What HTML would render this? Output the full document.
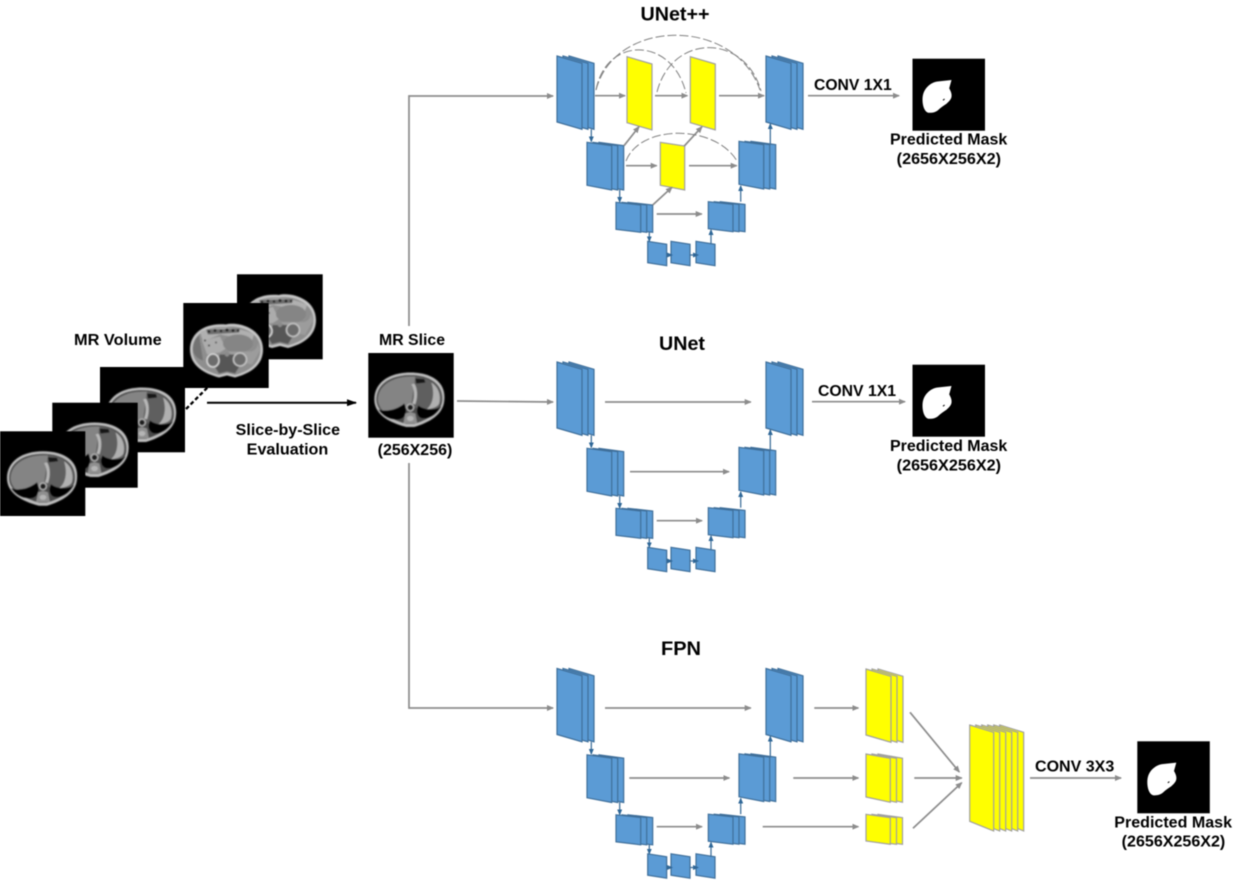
<!DOCTYPE html>
<html><head><meta charset="utf-8"><title>Segmentation diagram</title>
<style>
html,body{margin:0;padding:0;background:#fff;width:1233px;height:880px;overflow:hidden}
svg{display:block;filter:blur(.45px)}
text{font-family:"Liberation Sans",sans-serif;font-weight:bold;fill:#000}
.g{stroke:#8c8c8c;stroke-width:1.7;fill:none;marker-end:url(#ag)}
.b{stroke:#41719c;stroke-width:1.3;fill:none;marker-end:url(#ab)}
.d{stroke:#808080;stroke-width:1;fill:none;stroke-dasharray:9 3}
.bl{fill:#5b9bd5;stroke:#3f6f9a;stroke-width:1.2}
.ye{fill:#ffff00;stroke:#a0a0a0;stroke-width:1.2}
</style></head><body>
<svg width="1233" height="880" viewBox="0 0 1233 880" xmlns="http://www.w3.org/2000/svg">
<defs>
<filter id="soft" x="-5%" y="-5%" width="110%" height="110%"><feGaussianBlur stdDeviation=".55"/></filter>
<marker id="ag" markerWidth="7" markerHeight="6" refX="6" refY="3" orient="auto" markerUnits="userSpaceOnUse"><path d="M0 0L7 3L0 6z" fill="#8c8c8c"/></marker>
<marker id="ab" markerWidth="6" markerHeight="5" refX="5" refY="2.5" orient="auto" markerUnits="userSpaceOnUse"><path d="M0 0L6 2.5L0 5z" fill="#2f6797"/></marker>
<marker id="ak" markerWidth="10" markerHeight="7" refX="9" refY="3.5" orient="auto" markerUnits="userSpaceOnUse"><path d="M0 0L10 3.5L0 7z" fill="#000"/></marker>
<polygon id="pBig" points="0,0 25,7.3 25,73.3 0,66"/>
<polygon id="pMid" points="0,0 24.7,3.4 24.7,47.7 0,43"/>
<polygon id="p3" points="0,0 24.7,2.7 24.7,30 0,27"/>
<polygon id="pT" points="0,0 19,3 19,24.4 0,21.4"/>
<polygon id="pY" points="0,0 24,7.3 24,106 0,96.3"/>
<g id="sBig"><use href="#pBig" x="12"/><use href="#pBig" x="6"/><use href="#pBig"/></g>
<g id="sMid"><use href="#pMid" x="12"/><use href="#pMid" x="6"/><use href="#pMid"/></g>
<g id="s3"><use href="#p3" x="12"/><use href="#p3" x="6"/><use href="#p3"/></g>
<g id="unetBlocks" class="bl">
<use href="#sBig" x="557" y="56"/><use href="#sMid" x="587" y="142.3"/><use href="#s3" x="616" y="202.3"/>
<use href="#pT" x="647.7" y="241.3"/><use href="#pT" x="671" y="241.3"/><use href="#pT" x="696" y="241.3"/>
<use href="#s3" x="708.3" y="201.7"/><use href="#sMid" x="739" y="141.3"/><use href="#sBig" x="766" y="56"/>
<path class="b" d="M591.3 129.3V141.5"/><path class="b" d="M619.7 190V202"/><path class="b" d="M649.3 232.3V241.3"/>
<path class="b" d="M666.7 255H672"/><path class="b" d="M690 255H698"/><path class="b" d="M711 244.3V230"/>
<path class="b" d="M740.7 201.7V186"/><path class="b" d="M770.3 145V124"/>
</g>
<g id="chest" filter="url(#soft)">
<path d="M0 27C0 10 15 0 36 0C58 0 72 10 70 28C69 42 55 50 40 54.5L32 54.5C15 50 0 42 0 27z" fill="#bdbdbd"/>
<path d="M2 27C2 12 16 2.5 36 2.5C56 2.5 69 12 68 28C67 40 54 47 40 51.5L32 51.5C17 47 2 40 2 27z" fill="#4a4a4a"/>
<path d="M3.5 27C3.5 14 17 4 36 4L41 4V30L30 37L14 43C8 39 3.5 33 3.5 27z" fill="#848484"/>
<path d="M41 4C56 5 67 13 67 27L64 36L46 38L37 33z" fill="#5e5e5e"/>
<path d="M41 6L50 6.5L51 10L42 11z" fill="#141414"/>
<path d="M37 12C40 16 41 24 38 31L41 32C44 24 43 15 40 11z" fill="#b8b8b8"/>
<path d="M57 10C64 14 67 23 65 31C63 35 58 36 52 37C58 33 61 22 57 10z" fill="#b0b0b0"/>
<path d="M4 37C12 40 23 37 30 31C33 38 32 46 24 47C15 48 8 43 4 37z" fill="#050505"/>
<path d="M67 34C61 38 50 38 44 33C41 39 43 46 50 46C57 46 63 41 67 34z" fill="#050505"/>
<circle cx="36" cy="35" r="3.4" fill="#1c1c1c" stroke="#b0b0b0" stroke-width="1.4"/>
<path d="M31 41L36 39.5L41 41L43 51H29z" fill="#8f8f8f"/><ellipse cx="36" cy="46" rx="3.4" ry="2.6" fill="#b5b5b5"/>
</g>
<g id="abd" filter="url(#soft)">
<path d="M0 28C0 12 14 1 36 3C47 0 73 6 73 28C73 44 60 52 45 56L37 54L29 56C14 52 0 44 0 28z" fill="#c6c6c6"/>
<path d="M2.5 28C2.5 14 15 4 36 5.5C47 3 70.5 9 70.5 28C70.5 42 59 50 45 53.5L37 51.5L29 53.5C15 50 2.5 42 2.5 28z" fill="#8e8e8e"/>
<path d="M3 28C3 20 6 16 9 14L11 26L13 39C7 37 3 33 3 28z" fill="#737373"/>
<path d="M10 10C25 5 50 5 64 13L62 19L30 13L13 20z" fill="#b0b0b0"/>
<path d="M16 8L50 7L49 11L18 13z" fill="#6c6c6c"/>
<g fill="#1e1e1e"><circle cx="19" cy="10" r="1.3"/><circle cx="25" cy="9" r="1.4"/><circle cx="31" cy="9.5" r="1.2"/><circle cx="37" cy="8.5" r="1.5"/><circle cx="43" cy="9" r="1.4"/><circle cx="48" cy="9" r="1.1"/></g>
<path d="M12 19L30 15L36 27L30 31L17 33z" fill="#acacac"/>
<g fill="#3a3a3a"><circle cx="15" cy="19" r="1"/><circle cx="19" cy="24" r="1"/><circle cx="26" cy="21" r=".9"/></g>
<ellipse cx="48" cy="22" rx="15" ry="9" fill="#858585"/>
<path d="M38 30L60 30C66 30 68 24 68 21L70 29L62 43L48 40z" fill="#9c9c9c"/>
<path d="M24 44L30 33H44L50 44L45 52L37 50L29 52z" fill="#565656"/>
<ellipse cx="23" cy="39" rx="6" ry="6.5" fill="#6c6c6c" stroke="#d6d6d6" stroke-width="1.6"/>
<ellipse cx="50" cy="38" rx="6.5" ry="6.5" fill="#6c6c6c" stroke="#c4c4c4" stroke-width="1.6"/>
<circle cx="37" cy="33" r="2.2" fill="#8b8b8b"/>
</g>
<g id="mask">
<rect width="72.5" height="72" fill="#000"/>
<path d="M39 21.3L36.7 29.7C38 32 39.5 35 39 38C38.5 41 36 43 34 45C31 47 28 49 26 51C24 53 20 54.5 15.7 54C12 53 10 47 10 41C10 35 12 31 15 28C18 25 21 23.5 25 22.8z" fill="#fff"/>
<path d="M30.5 41.5l1.6-1.2" stroke="#000" stroke-width="1"/>
</g>
</defs>

<!-- MR volume stack -->
<rect x="237" y="274.3" width="85.7" height="85" fill="#000"/>
<use href="#abd" x="243" y="292"/>
<rect x="183.3" y="303" width="85.4" height="85" fill="#000"/>
<use href="#abd" x="190" y="321.5"/>
<rect x="100" y="367" width="85" height="85.3" fill="#000"/>
<use href="#chest" x="106" y="387.5"/>
<rect x="52.3" y="402.7" width="85.4" height="85" fill="#000"/>
<use href="#chest" x="58.5" y="422.5"/>
<rect x="0" y="431.3" width="85.3" height="84.7" fill="#000"/>
<use href="#chest" x="7" y="451.3"/>
<path d="M186 409L208 387" stroke="#000" stroke-width="2.3" stroke-dasharray="4 2.5" fill="none"/>
<path d="M207 402.7H356" stroke="#000" stroke-width="2" fill="none" marker-end="url(#ak)"/>
<text x="74" y="345" font-size="16" textLength="87.7" lengthAdjust="spacingAndGlyphs">MR Volume</text>
<text x="235.7" y="435" font-size="15.5" textLength="104.3" lengthAdjust="spacingAndGlyphs">Slice-by-Slice</text>
<text x="246.7" y="454.7" font-size="15.5" textLength="81.6" lengthAdjust="spacingAndGlyphs">Evaluation</text>

<!-- MR slice -->
<rect x="368.3" y="353" width="85.4" height="84.7" fill="#000"/>
<use href="#chest" x="374.3" y="372.5"/>
<text x="379" y="345" font-size="15.5" textLength="66" lengthAdjust="spacingAndGlyphs">MR Slice</text>
<text x="377.7" y="455" font-size="15.5" textLength="74.6" lengthAdjust="spacingAndGlyphs">(256X256)</text>

<!-- trunk -->
<path class="g" d="M409 326V96H553"/>
<path class="g" d="M409 463V708H553"/>
<path class="g" d="M457 401L553 402"/>

<!-- UNet++ -->
<use href="#unetBlocks"/>
<g class="ye"><use href="#pBig" x="627" y="56.7"/><use href="#pBig" x="690.3" y="56.7"/>
<polygon points="660.3,142.3 684.7,146 684.7,190 660.3,185.3"/></g>
<path class="g" d="M595 95.7H625"/><path class="g" d="M655 95.7H687.3"/><path class="g" d="M719 95.7H764"/>
<path class="g" d="M626 165.7H656.7"/><path class="g" d="M689 165.7H736.7"/><path class="g" d="M656.7 214H701.7"/>
<path class="g" d="M624 145.7L639 126.7"/><path class="g" d="M684.3 146L702 126.7"/><path class="g" d="M652.7 205L672 187.3"/>
<path class="d" d="M596 90C606 36 672 36 686 93"/>
<path class="d" d="M596 90C615 17 735 17 760 90"/>
<path class="d" d="M657 92C672 33 745 33 761 91"/>
<path class="d" d="M626 161C640 124 715 124 737 161"/>
<text x="640.5" y="20.7" font-size="19.5" textLength="69" lengthAdjust="spacingAndGlyphs">UNet++</text>
<path class="g" d="M808 95.7H899"/>
<text x="814" y="90" font-size="15.5" textLength="77.7" lengthAdjust="spacingAndGlyphs">CONV 1X1</text>
<use href="#mask" x="912.5" y="58.7"/>
<text x="890" y="144.7" font-size="15.5" textLength="117.3" lengthAdjust="spacingAndGlyphs">Predicted Mask</text>
<text x="896.7" y="164" font-size="15.5" textLength="104.3" lengthAdjust="spacingAndGlyphs">(2656X256X2)</text>

<!-- UNet -->
<use href="#unetBlocks" y="306"/>
<path class="g" d="M605 402H750.7"/><path class="g" d="M630 471.7H729"/><path class="g" d="M656.7 520.7H702"/>
<text x="659" y="350" font-size="19.5" textLength="46" lengthAdjust="spacingAndGlyphs">UNet</text>
<path class="g" d="M812 401.7H905"/>
<text x="818" y="396" font-size="15.5" textLength="78" lengthAdjust="spacingAndGlyphs">CONV 1X1</text>
<use href="#mask" x="912.5" y="364.7"/>
<text x="890" y="451" font-size="15.5" textLength="117.3" lengthAdjust="spacingAndGlyphs">Predicted Mask</text>
<text x="896.7" y="470.5" font-size="15.5" textLength="104.3" lengthAdjust="spacingAndGlyphs">(2656X256X2)</text>

<!-- FPN -->
<use href="#unetBlocks" y="612.5"/>
<path class="g" d="M605 708H750.7"/><path class="g" d="M629.3 778H729.3"/><path class="g" d="M656.7 826.7H702"/>
<path class="g" d="M814.3 708H858.3"/><path class="g" d="M793.3 778H858.3"/><path class="g" d="M762.7 826.7H858.3"/>
<text x="661" y="655" font-size="19.5" textLength="40" lengthAdjust="spacingAndGlyphs">FPN</text>
<g class="ye">
<use href="#sBig" x="866" y="669"/>
<g transform="translate(866 754)"><polygon points="12,0 36.5,4.3 36.5,48.3 12,43"/><polygon points="6,0 30.5,4.3 30.5,48.3 6,43"/><polygon points="0,0 24.3,4.3 24.3,48.3 0,43"/></g>
<g transform="translate(866 814.3)"><polygon points="12,0 36.5,3.4 36.5,30 12,26.7"/><polygon points="6,0 30.5,3.4 30.5,30 6,26.7"/><polygon points="0,0 24.3,3.4 24.3,30 0,26.7"/></g>
<g transform="translate(969.7 725)"><use href="#pY" x="30"/><use href="#pY" x="24"/><use href="#pY" x="18"/><use href="#pY" x="12"/><use href="#pY" x="6"/><use href="#pY"/></g>
</g>
<path class="g" d="M910 712.3L959.3 772"/><path class="g" d="M914.3 778H961.7"/><path class="g" d="M913 828.3L961.7 782.7"/>
<path class="g" d="M1030 778H1121"/>
<text x="1035" y="771.7" font-size="15.5" textLength="79.3" lengthAdjust="spacingAndGlyphs">CONV 3X3</text>
<use href="#mask" x="1137.3" y="741.3"/>
<text x="1114.3" y="827.3" font-size="15.5" textLength="117.7" lengthAdjust="spacingAndGlyphs">Predicted Mask</text>
<text x="1121.7" y="846.7" font-size="15.5" textLength="103.6" lengthAdjust="spacingAndGlyphs">(2656X256X2)</text>
</svg>
</body></html>
